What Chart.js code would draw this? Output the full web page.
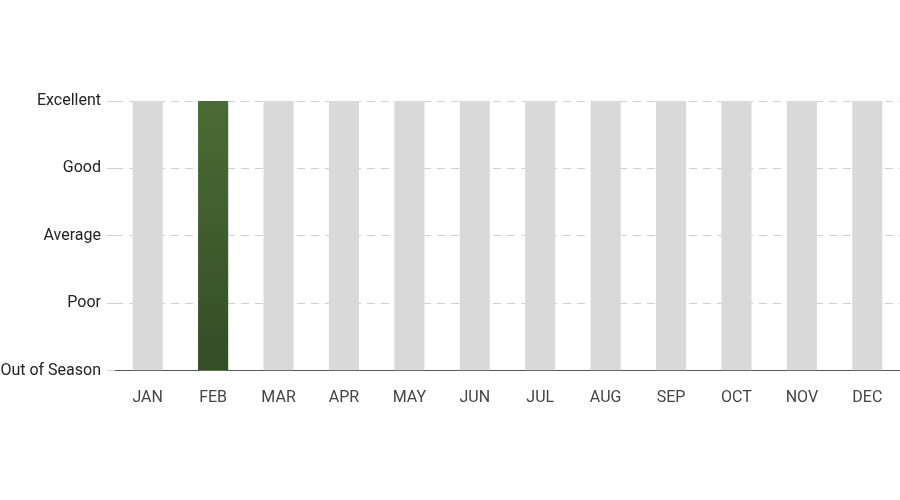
<!DOCTYPE html>
<html><head><meta charset="utf-8">
<script src="https://cdn.jsdelivr.net/npm/chart.js@4"></script>
<style>html,body{margin:0;padding:0;background:#fff}#w{width:900px;height:500px}</style>
</head><body><div id="w"><canvas id="c"></canvas></div>
<script>
const months = ["JAN","FEB","MAR","APR","MAY","JUN","JUL","AUG","SEP","OCT","NOV","DEC"];
const ratingLabels = ["Out of Season","Poor","Average","Good","Excellent"];
const seasonValues = [0,4,0,0,0,0,0,0,0,0,0,0];
const backgroundValues = [4,4,4,4,4,4,4,4,4,4,4,4];

new Chart(document.getElementById('c'), {
  type: 'bar',
  data: {
    labels: months,
    datasets: [
      {
        data: seasonValues,
        backgroundColor: (ctx) => {
          const a = ctx.chart.chartArea;
          if (!a) return '#3f5f2f';
          const g = ctx.chart.ctx.createLinearGradient(0, a.top, 0, a.bottom);
          g.addColorStop(0, '#4a6b35');
          g.addColorStop(1, '#334d27');
          return g;
        },
        barPercentage: 0.46, categoryPercentage: 1, grouped: false, order: 0
      },
      {
        data: backgroundValues,
        backgroundColor: '#d9d9d9',
        barPercentage: 0.46, categoryPercentage: 1, grouped: false, order: 1
      }
    ]
  },
  options: {
    responsive: true, maintainAspectRatio: false, animation: false,
    layout: { padding: { top: 101, bottom: 82, left: 0, right: 0 } },
    plugins: { legend: { display: false }, tooltip: { enabled: false } },
    scales: {
      x: {
        grid: { display: false },
        border: { display: true, color: '#555', width: 1 },
        ticks: { color: '#444', font: { family: 'Roboto', size: 16 }, padding: 10 }
      },
      y: {
        min: 0, max: 4,
        afterFit: (s) => { s.width = 115; },
        grid: { color: '#d0d0d0', drawTicks: true, tickLength: 8, tickColor: '#d0d0d0' },
        border: { display: false, dash: [8, 6] },
        ticks: {
          stepSize: 1, color: '#222', font: { family: 'Roboto', size: 16 }, padding: 6,
          callback: (v) => ratingLabels[v]
        }
      }
    }
  }
});
</script></body></html>
